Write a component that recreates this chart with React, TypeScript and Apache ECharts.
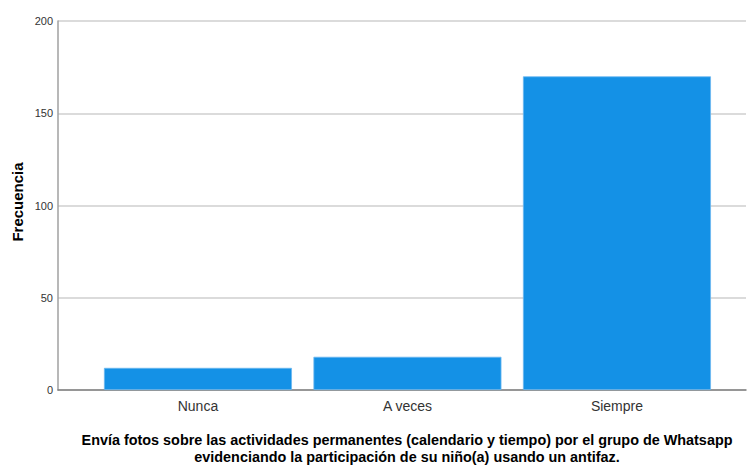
import React, { useEffect, useRef } from "react";
import * as echarts from "echarts";

const categories = ["Nunca", "A veces", "Siempre"];
const frequencies = [12, 18, 170];
const yTicks = [0, 50, 100, 150, 200];
const xTitleLines = [
  "Envía fotos sobre las actividades permanentes (calendario y tiempo) por el grupo de Whatsapp",
  "evidenciando la participación de su niño(a) usando un antifaz.",
];
const yTitle = "Frecuencia";

export default function App() {
  const ref = useRef<HTMLDivElement>(null);
  useEffect(() => {
    if (!ref.current) return;
    const chart = echarts.init(ref.current, null, { renderer: "svg" });
    const positions = categories.map((_, i) => i + 1);
    chart.setOption({
      animation: false,
      textStyle: { fontFamily: "Liberation Sans, Arial, sans-serif" },
      grid: { left: 58, right: 1, top: 21, bottom: 77, containLabel: false },
      xAxis: {
        type: "value",
        min: 0.332,
        max: 3.616,
        splitLine: { show: false },
        axisTick: { show: false },
        axisLine: { show: true, onZero: false, lineStyle: { color: "#808080", width: 1.5 } },
        axisLabel: {
          customValues: positions,
          color: "#333",
          fontSize: 14,
          margin: 9,
          formatter: (v: number) => categories[Math.round(v) - 1] ?? "",
        },
      },
      yAxis: {
        type: "value",
        min: yTicks[0],
        max: yTicks[yTicks.length - 1],
        interval: 50,
        axisLine: { show: true, lineStyle: { color: "#a0a0a0", width: 1.5 } },
        axisTick: { show: false },
        splitLine: { show: true, lineStyle: { color: "#cfcfcf", width: 1.5 } },
        axisLabel: { color: "#333", fontSize: 11, margin: 5 },
      },
      series: [
        {
          type: "bar",
          data: positions.map((p, i) => [p, frequencies[i]]),
          barWidth: 188,
          itemStyle: { color: "#1491e6", borderColor: "#6cb8f0", borderWidth: 0.8 },
        },
      ],
      graphic: [
        {
          type: "text",
          x: 17,
          y: 202,
          rotation: Math.PI / 2,
          style: {
            text: yTitle,
            font: "bold 15px Liberation Sans, Arial, sans-serif",
            fill: "#000",
            align: "center",
            verticalAlign: "middle",
          },
        },
        {
          type: "text",
          x: 407,
          y: 440,
          style: {
            text: xTitleLines[0],
            font: "bold 14.4px Liberation Sans, Arial, sans-serif",
            fill: "#000",
            align: "center",
            verticalAlign: "middle",
          },
        },
        {
          type: "text",
          x: 407,
          y: 457,
          style: {
            text: xTitleLines[1],
            font: "bold 14.4px Liberation Sans, Arial, sans-serif",
            fill: "#000",
            align: "center",
            verticalAlign: "middle",
          },
        },
      ],
    });
    return () => chart.dispose();
  }, []);
  return (
    <div
      ref={ref}
      style={{ position: "fixed", left: 0, top: 0, width: 747, height: 467, background: "#fff" }}
    />
  );
}
